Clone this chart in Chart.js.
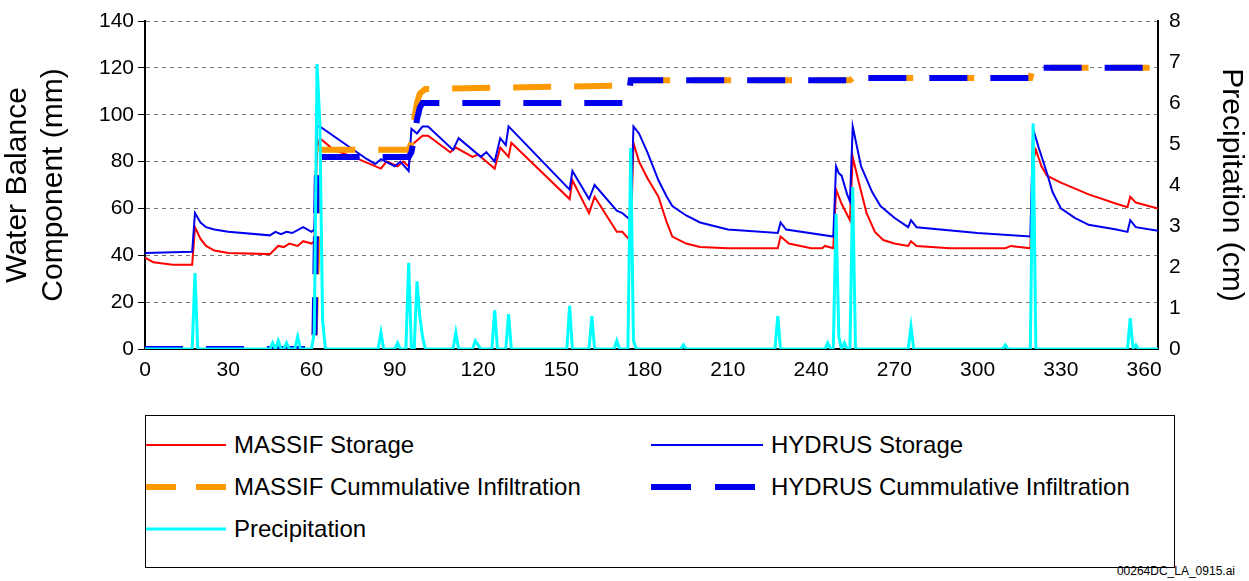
<!DOCTYPE html>
<html><head><meta charset="utf-8">
<script src="https://cdn.jsdelivr.net/npm/chart.js@4"></script>
<style>
body{margin:0;background:#fff;font-family:"Liberation Sans",Arial,sans-serif;}
#wrap{position:absolute;left:0;top:0;width:1249px;height:400px;}
#legend{position:absolute;left:145px;top:415px;width:1030px;height:153px;border:1px solid #000;box-sizing:border-box;}
.it{position:absolute;font-size:24px;color:#000;display:flex;align-items:center;}
.it svg{margin-right:8px}
#foot{position:absolute;right:14px;top:563px;font-size:12px;line-height:16px;}
</style></head><body>
<div id="wrap"><canvas id="c" width="1249" height="400"></canvas></div>
<div id="legend">
 <div class="it" style="left:0;top:15px"><svg width="80" height="10"><line x1="0" y1="5" x2="80" y2="5" stroke="#ff0000" stroke-width="2"/></svg>MASSIF Storage</div>
 <div class="it" style="left:505px;top:15px"><svg width="112" height="10"><line x1="0" y1="5" x2="112" y2="5" stroke="#0000ee" stroke-width="2"/></svg>HYDRUS Storage</div>
 <div class="it" style="left:0;top:57px"><svg width="80" height="10"><line x1="0" y1="5" x2="80" y2="5" stroke="#ff9900" stroke-width="6" stroke-dasharray="30 20"/></svg>MASSIF Cummulative Infiltration</div>
 <div class="it" style="left:505px;top:57px"><svg width="112" height="10"><line x1="0" y1="5" x2="112" y2="5" stroke="#0000ee" stroke-width="6" stroke-dasharray="40 24"/></svg>HYDRUS Cummulative Infiltration</div>
 <div class="it" style="left:0;top:99px"><svg width="80" height="10"><line x1="0" y1="5" x2="80" y2="5" stroke="#00ffff" stroke-width="3"/></svg>Precipitation</div>
</div>
<div id="foot">00264DC_LA_0915.ai</div>
<script>
const massifStorage=[[0,39],[3,37],[10,36],[17,36],[18,52],[20,47],[22,44],[25,42],[30,41],[45,40.5],[48,44],[50,43.5],[52,45],[55,44],[57,46],[60,45],[61,46],[62,86],[63,90],[68,85],[75,82],[85,77],[87,80],[91,78],[93,80],[95,78],[96,87],[98,89],[100,91],[102,91],[110,84],[112,86],[118,82],[120,83],[126,77],[128,86],[131,82],[132,88],[153,64],[154,72],[160,58],[162,65],[170,50],[172,50],[175,46],[176,88],[178,80],[181,73],[185,65],[188,54],[190,48],[195,45],[200,43.5],[210,43],[228,43],[229,48],[232,45],[240,43],[244,43],[245,44],[248,43],[249,68],[251,62],[254,55],[255,82],[257,72],[260,58],[263,50],[266,46.5],[270,45],[275,44],[276,46],[278,44],[290,43],[310,43],[312,44],[319,43],[320,80],[321,85],[323,78],[325,74],[330,71],[340,66],[350,62],[354,60.5],[355,65],[357,62.5],[365,60]];
const hydrusStorage=[[0,41],[17,41.5],[18,58],[20,54],[22,52],[25,51],[30,50],[45,48.5],[47,50],[49,49],[51,50],[53,49.5],[57,52],[60,50],[61,51],[62,95],[63,95],[80,81],[83,79],[85,81],[90,78],[92,80],[95,76],[96,94],[98,92],[100,95],[102,95],[111,85],[113,90],[121,82],[123,84],[126,80],[128,90],[130,87],[131,95],[153,68],[154,76],[160,64],[162,70],[170,59],[172,58],[175,55],[176,95],[178,92],[181,84],[185,72],[188,65],[190,61],[195,57],[200,54],[210,51],[228,49.5],[229,54],[231,51],[248,48],[249,78],[250,75],[251,74],[253,66],[254,63],[255,95],[258,78],[262,67],[265,61],[270,56],[275,52],[276,55],[278,52],[300,49.5],[319,48],[320,94],[322,86],[325,75],[327,67],[330,60],[335,56],[340,53],[350,51],[354,50],[355,55],[357,52],[365,50.5]];
const massifInfil=[[0,0],[61,0],[62,40],[63,85],[95,85],[96,88],[97,98],[98,105],[99,109],[100,110],[101,111],[175,112.5],[176,114.7],[254,114.7],[255,115.7],[319,115.7],[320,120],[365,120]];
const hydrusInfil=[[0,0],[61,0],[62,82],[95,82],[96,84],[97,90],[98,98],[99,103],[100,105],[174,105],[175,114.7],[254,114.7],[255,115.7],[319,115.7],[320,120],[365,120]];
const precip=[[0,0],[17,0],[18,1.85],[19,0],[45,0],[46,0.15],[47,0],[48,0.2],[49,0],[50,0],[51,0.15],[52,0],[54,0],[55,0.3],[56,0],[60,0],[61,0.4],[62,6.95],[63,5.5],[64,0.7],[65,0],[84,0],[85,0.4],[86,0],[90,0],[91,0.15],[92,0],[94,0],[95,2.1],[96,0],[97,0],[98,1.65],[99,0.8],[100,0.3],[101,0],[111,0],[112,0.4],[113,0],[118,0],[119,0.2],[120,0.1],[121,0],[125,0],[126,0.95],[127,0],[130,0],[131,0.85],[132,0],[152,0],[153,1.05],[154,0],[160,0],[161,0.8],[162,0],[169,0],[170,0.2],[171,0],[174,0],[175,4.9],[176,0.2],[177,0],[193,0],[194,0.1],[195,0],[227,0],[228,0.8],[229,0],[245,0],[246,0.15],[247,0],[248,0],[249,3.3],[250,0.3],[251,0],[252,0.15],[253,0],[254,0],[255,3.95],[256,0],[275,0],[276,0.55],[277,0],[309,0],[310,0.1],[311,0],[319,0],[320,5.5],[321,0],[354,0],[355,0.75],[356,0],[357,0.1],[358,0],[365,0]];
const xTicks=[0,30,60,90,120,150,180,210,240,270,300,330,360];
const toXY=a=>a.map(p=>({x:p[0],y:p[1]}));
const tickFont={family:'"Liberation Sans",Arial',size:21};
const titleFont={family:'"Liberation Sans",Arial',size:30};
new Chart(document.getElementById('c'),{
 type:'line',
 data:{datasets:[
  {data:toXY(precip),yAxisID:'y1',borderColor:'#00ffff',borderWidth:3,pointRadius:0,order:0},
  {data:toXY(hydrusInfil),yAxisID:'y',borderColor:'#0000ee',borderWidth:6,borderDash:[38,23],pointRadius:0,order:1},
  {data:toXY(massifInfil),yAxisID:'y',borderColor:'#ff9900',borderWidth:6,borderDash:[38,23],pointRadius:0,order:2},
  {data:toXY(hydrusStorage),yAxisID:'y',borderColor:'#0000ee',borderWidth:2,pointRadius:0,order:3},
  {data:toXY(massifStorage),yAxisID:'y',borderColor:'#ff0000',borderWidth:2,pointRadius:0,order:4}
 ]},
 options:{responsive:false,animation:false,events:[],
  layout:{padding:{top:21,right:0,left:0,bottom:0}},
  plugins:{legend:{display:false},tooltip:{enabled:false}},
  scales:{
   x:{type:'linear',min:0,max:365,afterBuildTicks:s=>{s.ticks=xTicks.map(v=>({value:v}));},
      afterFit:s=>{s.height=51;},
      grid:{display:false,drawTicks:true,tickLength:7,tickColor:'#000'},border:{color:'#000',width:2},
      ticks:{color:'#000',font:tickFont,maxRotation:0,padding:2}},
   y:{position:'left',min:0,max:140,afterFit:s=>{s.width=145;},
      ticks:{stepSize:20,color:'#000',font:tickFont,padding:4},
      grid:{color:'#777',lineWidth:1,tickColor:'#000',tickLength:7,drawTicks:true},border:{color:'#000',width:2,dash:[4,4]},
      title:{display:true,text:['Water Balance','Component (mm)'],color:'#000',font:titleFont,padding:0}},
   y1:{position:'right',min:0,max:8,afterFit:s=>{s.width=91;},
      ticks:{stepSize:1,color:'#000',font:tickFont,padding:4},
      grid:{display:false,drawOnChartArea:false,tickColor:'#000',tickLength:7},border:{color:'#000',width:2},
      title:{display:true,text:'Precipitation (cm)',color:'#000',font:titleFont,padding:0}}
  }}
});
</script></body></html>
